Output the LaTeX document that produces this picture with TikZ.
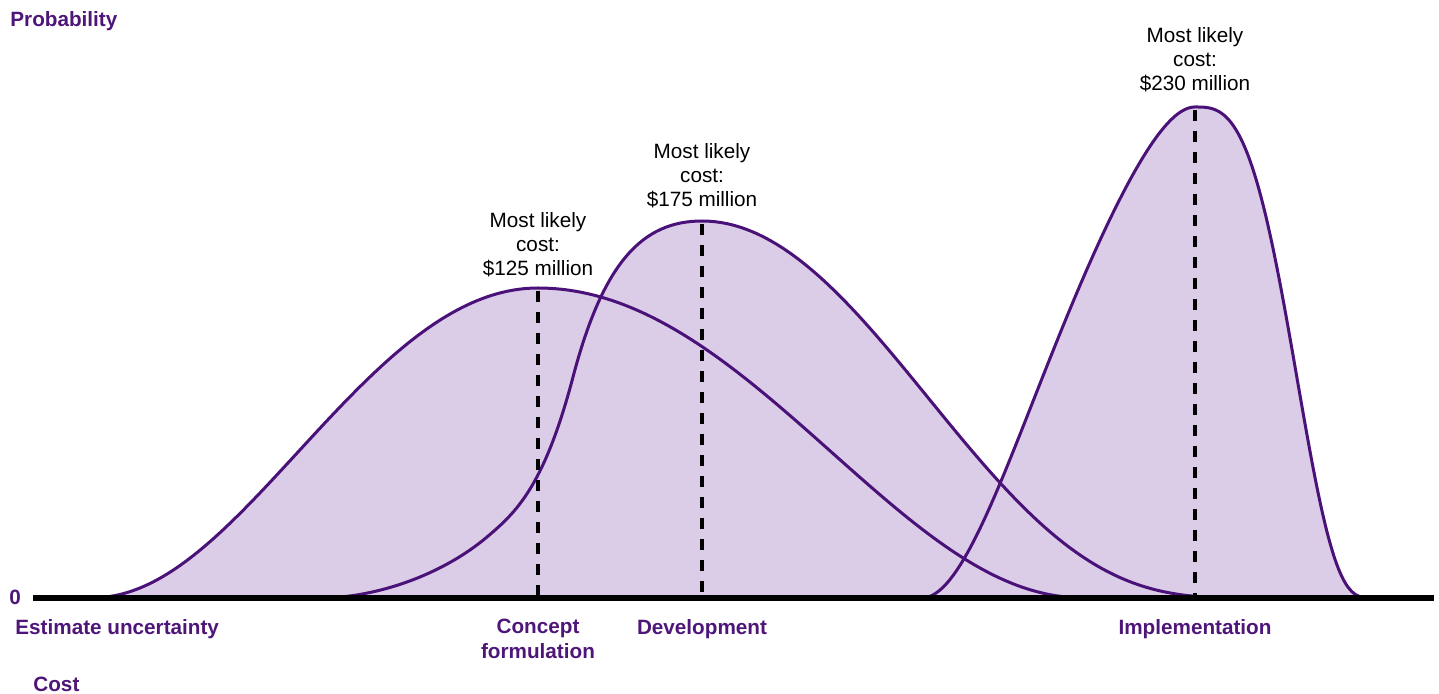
\documentclass[tikz,border=0pt]{standalone}
\usepackage{fontspec}
\setmainfont{Liberation Sans}
\definecolor{curvepurple}{HTML}{4A1278}
\definecolor{textpurple}{HTML}{4E1679}
\definecolor{areafill}{HTML}{DBCDE8}
\tikzset{
  curve/.style={draw=curvepurple, line width=1.5pt, line join=round},
  area/.style={fill=areafill, draw=none},
  modeline/.style={draw=black, line width=1.6pt, dash pattern=on 5.4pt off 5.1pt},
  axisline/.style={draw=black, line width=2.6pt},
  costlabel/.style={inner sep=0pt, align=center, text=black,
    font=\fontsize{10.35pt}{12pt}\selectfont},
  axislabel/.style={inner sep=0pt, align=center, text=textpurple,
    font=\fontsize{10.35pt}{12.5pt}\selectfont\bfseries},
}
\begin{document}
\begin{tikzpicture}[x=0.5pt, y=-0.5pt,
  declare function={
    qq(\t)=max(0,1-\t*\t);
    rr(\t)=max(0,1-\t*\t*\t);
    fA(\t)=qq(\t)*qq(\t)*sqrt(sqrt(qq(\t)));
    fBr(\t)=qq(\t)*qq(\t)*qq(\t)*sqrt(qq(\t));
    fCl(\t)=max(0,qq(\t)*qq(\t)-2*\t*\t*(1-\t)*(1-\t)*(1-\t)*(1-\t));
    fCr(\t)=rr(\t)*rr(\t)*rr(\t)*rr(\t);
  }]
\useasboundingbox (0,0) rectangle (1439,694);
% curve paths
\def\pathA{plot[domain=1:0, samples=90, variable=\t] ({538-450*\t},{598-310*fA(\t)})
  -- plot[domain=0:1, samples=90, variable=\t] ({538+550*\t},{598-310*fA(\t)})}
\def\pathB{(320,598) .. controls (376,598) and (442,575) .. (487,537)
  .. controls (516,512.4) and (544,487) .. (573,377)
  .. controls (603,263) and (642,221) .. (702,221)
  -- plot[domain=0:1, samples=90, variable=\t] ({702+556*\t},{598-377*fBr(\t)})}
\def\pathC{plot[domain=1:0, samples=80, variable=\t] ({1195-273*\t},{598-491*fCl(\t)})
  -- plot[domain=0:1, samples=80, variable=\t] ({1195+180*\t},{598-491*fCr(\t)})}
% fills
\fill[area] \pathA -- cycle;
\fill[area] \pathB -- cycle;
\fill[area] \pathC -- cycle;
% outlines
\draw[curve] \pathA;
\draw[curve] \pathB;
\draw[curve] \pathC;
% peaks and feet
\coordinate (pA) at (538,291);
\coordinate (fA) at (538,598);
\coordinate (pB) at (702,224);
\coordinate (fB) at (702,598);
\coordinate (pC) at (1195,110);
\coordinate (fC) at (1195,598);
\draw[modeline] (pA) -- (fA);
\draw[modeline] (pB) -- (fB);
\draw[modeline] (pC) -- (fC);
% axis
\coordinate (axL) at (33,598);
\coordinate (axR) at (1434,598);
\draw[axisline] (axL) -- (axR);
% cost labels
\node[costlabel, anchor=north] (mA) at (538,212) {Most likely\\cost:\\\$125 million};
\node[costlabel, anchor=north] (mB) at (702,143) {Most likely\\cost:\\\$175 million};
\node[costlabel, anchor=north] (mC) at (1195,27) {Most likely\\cost:\\\$230 million};
% axis labels
\node[axislabel, anchor=base west] (prob) at (10,27) {Probability};
\node[axislabel, anchor=base west] (zero) at (9,604) {0};
\node[axislabel, anchor=base west] (est) at (15,634) {Estimate uncertainty};
\node[axislabel, anchor=base west] (cost) at (33,691) {Cost};
\node[axislabel, anchor=north] (concept) at (538,619) {Concept\\formulation};
\node[axislabel, anchor=base] (dev) at (702,634) {Development};
\node[axislabel, anchor=base] (impl) at (1195,634) {Implementation};
\end{tikzpicture}
\end{document}
